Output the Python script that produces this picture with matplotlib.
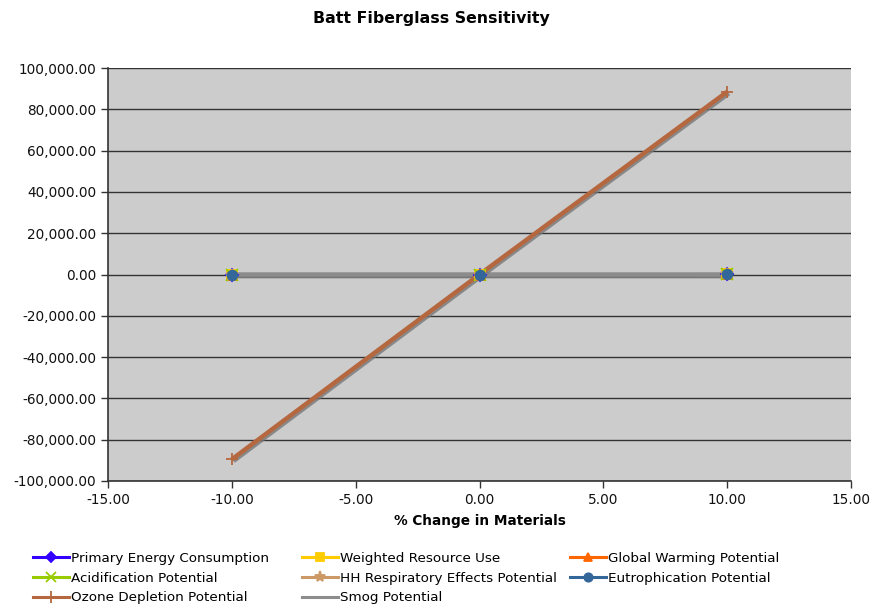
import numpy as np
import matplotlib.pyplot as plt
import matplotlib.patheffects as pe
from matplotlib.ticker import FuncFormatter

# % change in material quantity
pct_change = [-10.0, 0.0, 10.0]

primary_energy = [-2.1, 0.0, 2.1]
weighted_resource = [-0.4, 0.0, 0.4]
global_warming = [-0.2, 0.0, 0.2]
acidification = [-0.05, 0.0, 0.05]
hh_respiratory = [-0.01, 0.0, 0.01]
eutrophication = [-0.002, 0.0, 0.002]
ozone_depletion = [-89500.0, 0.0, 88500.0]
smog = [-0.3, 0.0, 0.3]

names = ['Primary Energy Consumption', 'Weighted Resource Use',
         'Global Warming Potential', 'Acidification Potential',
         'HH Respiratory Effects Potential', 'Eutrophication Potential',
         'Ozone Depletion Potential', 'Smog Potential']
series = [primary_energy, weighted_resource, global_warming, acidification,
          hh_respiratory, eutrophication, ozone_depletion, smog]
colors = ['#3300FF', '#FFCC00', '#FF6600', '#99CC00',
          '#CC9966', '#336699', '#B5683F', '#8C8C8C']
markers = ['D', 's', '^', 'x', '*', 'o', '+', '_']
msizes = [6, 7, 7, 8, 9, 7, 9, 8]
# ozone line sits over the smog line
line_z = [3.0, 3.1, 3.2, 3.3, 3.4, 3.5, 3.9, 3.8]
mark_z = [5.0, 5.1, 5.2, 5.3, 5.4, 5.9, 5.6, 5.5]

plt.rcParams['font.family'] = ['DejaVu Sans']

fig = plt.figure(figsize=(8.72, 6.10), dpi=100)
ax = fig.add_axes([108 / 872, 1 - 481 / 610, 743 / 872, 413 / 610])
ax.set_facecolor('#CCCCCC')

shadow = [pe.SimpleLineShadow(offset=(1.2, -1.2), shadow_color='#777777', alpha=0.8),
          pe.Normal()]

handles = []
for i, (name, vals, c, m, ms) in enumerate(zip(names, series, colors, markers, msizes)):
    lw = 3.2 if name in ('Ozone Depletion Potential', 'Smog Potential') else 2.0
    ax.plot(pct_change, vals, color=c, lw=lw, zorder=line_z[i],
            path_effects=shadow, solid_capstyle='butt')
    ax.plot(pct_change, vals, ls='none', marker=m, ms=ms, color=c,
            mec=c, mew=1.3, zorder=mark_z[i])
    h, = ax.plot([], [], color=c, lw=2.2, marker=m, ms=ms - 1, mec=c, mew=1.3)
    handles.append(h)

ax.set_xlim(-15, 15)
ax.set_ylim(-100000, 100000)
ax.set_xticks(np.arange(-15, 16, 5))
ax.set_yticks(np.arange(-100000, 100001, 20000))
ax.xaxis.set_major_formatter(FuncFormatter(lambda v, p: f'{v:,.2f}'))
ax.yaxis.set_major_formatter(FuncFormatter(lambda v, p: f'{v:,.2f}'))
ax.tick_params(direction='out', length=5, width=1, color='#333333', labelsize=9.8,
               labelcolor='#111111')
ax.grid(axis='y', color='#333333', lw=1)
ax.set_axisbelow(True)
for s in ('top', 'right'):
    ax.spines[s].set_visible(False)
for s in ('left', 'bottom'):
    ax.spines[s].set_color('#333333')
    ax.spines[s].set_linewidth(1.2)

fig.text(431 / 872, 1 - 18 / 610, 'Batt Fiberglass Sensitivity',
         ha='center', va='center', fontsize=11.3, fontweight='bold')
ax.set_xlabel('% Change in Materials', fontsize=9.8, fontweight='bold', labelpad=5)

# legend laid out row by row in three evenly spaced columns
col_x = [33, 302, 570]
for k in range(3):
    idx = list(range(k, len(names), 3))
    leg = fig.legend([handles[j] for j in idx], [names[j] for j in idx],
                     loc='upper left', bbox_to_anchor=(col_x[k] / 872, 1 - 552 / 610),
                     frameon=False, fontsize=9.7, handlelength=2.7,
                     handletextpad=0.15, labelspacing=0.5,
                     borderpad=0, borderaxespad=0)

fig.savefig('out.png', dpi=100)
